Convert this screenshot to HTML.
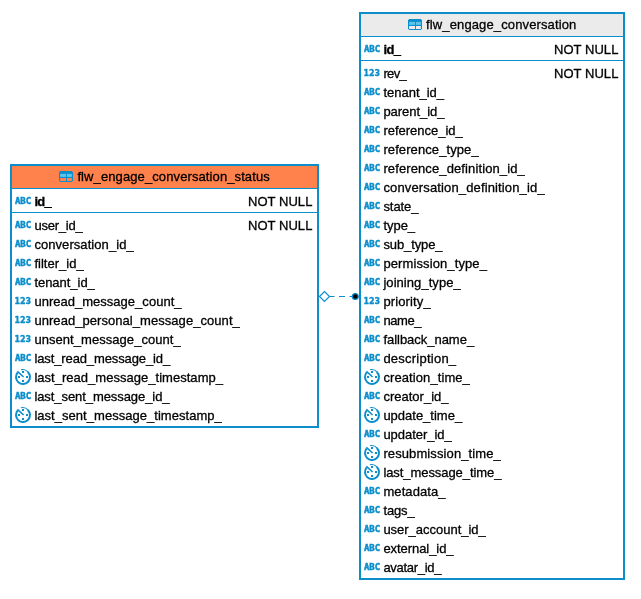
<!DOCTYPE html>
<html><head><meta charset="utf-8"><title>ER diagram</title>
<style>
html,body{margin:0;padding:0;background:#fff;}
body{width:641px;height:599px;position:relative;overflow:hidden;font-family:"Liberation Sans",sans-serif;font-size:13px;color:#000;}
.box{position:absolute;box-sizing:border-box;border:2px solid #0c8ecb;background:#fff;}
.hd{height:22px;border-bottom:1px solid #0c8ecb;line-height:22px;white-space:nowrap;position:relative;}
.l .hd{background:#ff814c;}
.r .hd{background:#ebebeb;}
.hdin{will-change:transform;position:absolute;top:0;height:22px;white-space:nowrap;}
.ti{position:absolute;left:0;top:5px;}
.tt{position:absolute;left:18px;top:0;line-height:22px;}
.pk{height:19px;padding:2px 0;border-bottom:1px solid #0c8ecb;}
.cols{padding:2px 0;}
.row{will-change:transform;height:19px;line-height:19px;position:relative;white-space:nowrap;}
.ic{position:absolute;left:3px;}
.ic text{font-weight:bold;fill:#0c8ecb;}
.ia{font-family:"DejaVu Sans Mono","Liberation Mono",monospace;font-size:9px;stroke:#0c8ecb;stroke-width:0.45px;}
.i1{font-family:"DejaVu Sans Condensed","DejaVu Sans","Liberation Sans",sans-serif;font-size:9.5px;stroke:#0c8ecb;stroke-width:0.35px;}
.nm,.nn,.tt{-webkit-text-stroke:0.3px #000;}
.nm{position:absolute;left:22.4px;top:1px;}
.b{font-weight:bold;}
.nn{position:absolute;right:4.55px;top:1px;}
svg{display:block;overflow:visible;}
</style></head>
<body>
<div class="box l" style="left:10px;top:164px;width:309px;height:264px">
<div class="hd"><span class="hdin" style="left:47px"><svg class="ti" width="14" height="11" viewBox="0 0 14 11"><path fill-rule="evenodd" fill="#0c8ecb" d="M1 0H13V0.8H14V10.2H13V11H1V10.2H0V0.8H1Z M1.1 7H7V10H1.1Z M7.95 7H12.85V10H7.95Z"/><rect x="1.1" y="2.9" width="5.9" height="3" fill="#58c6ee"/><rect x="7.95" y="2.9" width="4.9" height="3" fill="#58c6ee"/></svg><span class="tt" style="left:18.4px;letter-spacing:0.104px">flw_engage_conversation_status</span></span></div>
<div class="pk"><div class="row"><svg class="ic" width="17" height="9" viewBox="0 0 17 9" style="top:5px"><text class="ia" x="0" y="8" textLength="16.1" lengthAdjust="spacing">ABC</text></svg><span class="nm b" style="letter-spacing:-0.715px">id_</span><span class="nn" style="letter-spacing:0.054px">NOT NULL</span></div></div>
<div class="cols">
<div class="row"><svg class="ic" width="17" height="9" viewBox="0 0 17 9" style="top:5px"><text class="ia" x="0" y="8" textLength="16.1" lengthAdjust="spacing">ABC</text></svg><span class="nm" style="letter-spacing:-0.223px">user_id_</span><span class="nn" style="letter-spacing:0.054px">NOT NULL</span></div>
<div class="row"><svg class="ic" width="17" height="9" viewBox="0 0 17 9" style="top:5px"><text class="ia" x="0" y="8" textLength="16.1" lengthAdjust="spacing">ABC</text></svg><span class="nm" style="letter-spacing:0.066px">conversation_id_</span></div>
<div class="row"><svg class="ic" width="17" height="9" viewBox="0 0 17 9" style="top:5px"><text class="ia" x="0" y="8" textLength="16.1" lengthAdjust="spacing">ABC</text></svg><span class="nm" style="letter-spacing:0.017px">filter_id_</span></div>
<div class="row"><svg class="ic" width="17" height="9" viewBox="0 0 17 9" style="top:5px"><text class="ia" x="0" y="8" textLength="16.1" lengthAdjust="spacing">ABC</text></svg><span class="nm" style="letter-spacing:-0.031px">tenant_id_</span></div>
<div class="row"><svg class="ic" width="17" height="9" viewBox="0 0 17 9" style="top:5px"><text class="i1" x="-0.6" y="8" textLength="16.6" lengthAdjust="spacingAndGlyphs">123</text></svg><span class="nm" style="letter-spacing:0.019px">unread_message_count_</span></div>
<div class="row"><svg class="ic" width="17" height="9" viewBox="0 0 17 9" style="top:5px"><text class="i1" x="-0.6" y="8" textLength="16.6" lengthAdjust="spacingAndGlyphs">123</text></svg><span class="nm" style="letter-spacing:0.054px">unread_personal_message_count_</span></div>
<div class="row"><svg class="ic" width="17" height="9" viewBox="0 0 17 9" style="top:5px"><text class="i1" x="-0.6" y="8" textLength="16.6" lengthAdjust="spacingAndGlyphs">123</text></svg><span class="nm" style="letter-spacing:0.054px">unsent_message_count_</span></div>
<div class="row"><svg class="ic" width="17" height="9" viewBox="0 0 17 9" style="top:5px"><text class="ia" x="0" y="8" textLength="16.1" lengthAdjust="spacing">ABC</text></svg><span class="nm" style="letter-spacing:-0.111px">last_read_message_id_</span></div>
<div class="row"><svg class="ic" width="16" height="16" viewBox="0 0 16 16" style="top:2px"><path d="M2.7 3.4 A7 7 0 1 0 12.8 2.9" fill="none" stroke="#0c8ecb" stroke-width="2"/><path d="M13.2 3.2 A7.5 7.5 0 0 0 6 0.75" fill="none" stroke="#0c8ecb" stroke-width="1.1"/><path d="M2.4 2.4 L8.6 8" fill="none" stroke="#0c8ecb" stroke-width="1.6"/><path fill="#0c8ecb" d="M7 2h2v2H7zM7 11h2v2H7zM3 7h2v2H3zM11 7h2v2h-2z"/></svg><span class="nm" style="letter-spacing:0.026px">last_read_message_timestamp_</span></div>
<div class="row"><svg class="ic" width="17" height="9" viewBox="0 0 17 9" style="top:5px"><text class="ia" x="0" y="8" textLength="16.1" lengthAdjust="spacing">ABC</text></svg><span class="nm" style="letter-spacing:-0.072px">last_sent_message_id_</span></div>
<div class="row"><svg class="ic" width="16" height="16" viewBox="0 0 16 16" style="top:2px"><path d="M2.7 3.4 A7 7 0 1 0 12.8 2.9" fill="none" stroke="#0c8ecb" stroke-width="2"/><path d="M13.2 3.2 A7.5 7.5 0 0 0 6 0.75" fill="none" stroke="#0c8ecb" stroke-width="1.1"/><path d="M2.4 2.4 L8.6 8" fill="none" stroke="#0c8ecb" stroke-width="1.6"/><path fill="#0c8ecb" d="M7 2h2v2H7zM7 11h2v2H7zM3 7h2v2H3zM11 7h2v2h-2z"/></svg><span class="nm" style="letter-spacing:0.037px">last_sent_message_timestamp_</span></div>
</div>
</div>
<div class="box r" style="left:359px;top:12px;width:266px;height:568px">
<div class="hd"><span class="hdin" style="left:47px"><svg class="ti" width="14" height="11" viewBox="0 0 14 11"><path fill-rule="evenodd" fill="#0c8ecb" d="M1 0H13V0.8H14V10.2H13V11H1V10.2H0V0.8H1Z M1.1 7H7V10H1.1Z M7.95 7H12.85V10H7.95Z"/><rect x="1.1" y="2.9" width="5.9" height="3" fill="#58c6ee"/><rect x="7.95" y="2.9" width="4.9" height="3" fill="#58c6ee"/></svg><span class="tt" style="left:18.1px;letter-spacing:0.124px">flw_engage_conversation</span></span></div>
<div class="pk"><div class="row"><svg class="ic" width="17" height="9" viewBox="0 0 17 9" style="top:5px"><text class="ia" x="0" y="8" textLength="16.1" lengthAdjust="spacing">ABC</text></svg><span class="nm b" style="letter-spacing:-0.548px">id_</span><span class="nn" style="letter-spacing:0.054px">NOT NULL</span></div></div>
<div class="cols">
<div class="row"><svg class="ic" width="17" height="9" viewBox="0 0 17 9" style="top:5px"><text class="i1" x="-0.6" y="8" textLength="16.6" lengthAdjust="spacingAndGlyphs">123</text></svg><span class="nm" style="letter-spacing:-0.662px">rev_</span><span class="nn" style="letter-spacing:0.054px">NOT NULL</span></div>
<div class="row"><svg class="ic" width="17" height="9" viewBox="0 0 17 9" style="top:5px"><text class="ia" x="0" y="8" textLength="16.1" lengthAdjust="spacing">ABC</text></svg><span class="nm" style="letter-spacing:-0.008px">tenant_id_</span></div>
<div class="row"><svg class="ic" width="17" height="9" viewBox="0 0 17 9" style="top:5px"><text class="ia" x="0" y="8" textLength="16.1" lengthAdjust="spacing">ABC</text></svg><span class="nm" style="letter-spacing:-0.032px">parent_id_</span></div>
<div class="row"><svg class="ic" width="17" height="9" viewBox="0 0 17 9" style="top:5px"><text class="ia" x="0" y="8" textLength="16.1" lengthAdjust="spacing">ABC</text></svg><span class="nm" style="letter-spacing:-0.005px">reference_id_</span></div>
<div class="row"><svg class="ic" width="17" height="9" viewBox="0 0 17 9" style="top:5px"><text class="ia" x="0" y="8" textLength="16.1" lengthAdjust="spacing">ABC</text></svg><span class="nm" style="letter-spacing:0.093px">reference_type_</span></div>
<div class="row"><svg class="ic" width="17" height="9" viewBox="0 0 17 9" style="top:5px"><text class="ia" x="0" y="8" textLength="16.1" lengthAdjust="spacing">ABC</text></svg><span class="nm" style="letter-spacing:0.113px">reference_definition_id_</span></div>
<div class="row"><svg class="ic" width="17" height="9" viewBox="0 0 17 9" style="top:5px"><text class="ia" x="0" y="8" textLength="16.1" lengthAdjust="spacing">ABC</text></svg><span class="nm" style="letter-spacing:0.141px">conversation_definition_id_</span></div>
<div class="row"><svg class="ic" width="17" height="9" viewBox="0 0 17 9" style="top:5px"><text class="ia" x="0" y="8" textLength="16.1" lengthAdjust="spacing">ABC</text></svg><span class="nm" style="letter-spacing:-0.056px">state_</span></div>
<div class="row"><svg class="ic" width="17" height="9" viewBox="0 0 17 9" style="top:5px"><text class="ia" x="0" y="8" textLength="16.1" lengthAdjust="spacing">ABC</text></svg><span class="nm" style="letter-spacing:-0.022px">type_</span></div>
<div class="row"><svg class="ic" width="17" height="9" viewBox="0 0 17 9" style="top:5px"><text class="ia" x="0" y="8" textLength="16.1" lengthAdjust="spacing">ABC</text></svg><span class="nm" style="letter-spacing:-0.109px">sub_type_</span></div>
<div class="row"><svg class="ic" width="17" height="9" viewBox="0 0 17 9" style="top:5px"><text class="ia" x="0" y="8" textLength="16.1" lengthAdjust="spacing">ABC</text></svg><span class="nm" style="letter-spacing:0.108px">permission_type_</span></div>
<div class="row"><svg class="ic" width="17" height="9" viewBox="0 0 17 9" style="top:5px"><text class="ia" x="0" y="8" textLength="16.1" lengthAdjust="spacing">ABC</text></svg><span class="nm" style="letter-spacing:0.06px">joining_type_</span></div>
<div class="row"><svg class="ic" width="17" height="9" viewBox="0 0 17 9" style="top:5px"><text class="i1" x="-0.6" y="8" textLength="16.6" lengthAdjust="spacingAndGlyphs">123</text></svg><span class="nm" style="letter-spacing:0.133px">priority_</span></div>
<div class="row"><svg class="ic" width="17" height="9" viewBox="0 0 17 9" style="top:5px"><text class="ia" x="0" y="8" textLength="16.1" lengthAdjust="spacing">ABC</text></svg><span class="nm" style="letter-spacing:-0.386px">name_</span></div>
<div class="row"><svg class="ic" width="17" height="9" viewBox="0 0 17 9" style="top:5px"><text class="ia" x="0" y="8" textLength="16.1" lengthAdjust="spacing">ABC</text></svg><span class="nm" style="letter-spacing:-0.026px">fallback_name_</span></div>
<div class="row"><svg class="ic" width="17" height="9" viewBox="0 0 17 9" style="top:5px"><text class="ia" x="0" y="8" textLength="16.1" lengthAdjust="spacing">ABC</text></svg><span class="nm" style="letter-spacing:0.236px">description_</span></div>
<div class="row"><svg class="ic" width="16" height="16" viewBox="0 0 16 16" style="top:2px"><path d="M2.7 3.4 A7 7 0 1 0 12.8 2.9" fill="none" stroke="#0c8ecb" stroke-width="2"/><path d="M13.2 3.2 A7.5 7.5 0 0 0 6 0.75" fill="none" stroke="#0c8ecb" stroke-width="1.1"/><path d="M2.4 2.4 L8.6 8" fill="none" stroke="#0c8ecb" stroke-width="1.6"/><path fill="#0c8ecb" d="M7 2h2v2H7zM7 11h2v2H7zM3 7h2v2H3zM11 7h2v2h-2z"/></svg><span class="nm" style="letter-spacing:0.092px">creation_time_</span></div>
<div class="row"><svg class="ic" width="17" height="9" viewBox="0 0 17 9" style="top:5px"><text class="ia" x="0" y="8" textLength="16.1" lengthAdjust="spacing">ABC</text></svg><span class="nm" style="letter-spacing:0.007px">creator_id_</span></div>
<div class="row"><svg class="ic" width="16" height="16" viewBox="0 0 16 16" style="top:2px"><path d="M2.7 3.4 A7 7 0 1 0 12.8 2.9" fill="none" stroke="#0c8ecb" stroke-width="2"/><path d="M13.2 3.2 A7.5 7.5 0 0 0 6 0.75" fill="none" stroke="#0c8ecb" stroke-width="1.1"/><path d="M2.4 2.4 L8.6 8" fill="none" stroke="#0c8ecb" stroke-width="1.6"/><path fill="#0c8ecb" d="M7 2h2v2H7zM7 11h2v2H7zM3 7h2v2H3zM11 7h2v2h-2z"/></svg><span class="nm" style="letter-spacing:-0.005px">update_time_</span></div>
<div class="row"><svg class="ic" width="17" height="9" viewBox="0 0 17 9" style="top:5px"><text class="ia" x="0" y="8" textLength="16.1" lengthAdjust="spacing">ABC</text></svg><span class="nm" style="letter-spacing:-0.032px">updater_id_</span></div>
<div class="row"><svg class="ic" width="16" height="16" viewBox="0 0 16 16" style="top:2px"><path d="M2.7 3.4 A7 7 0 1 0 12.8 2.9" fill="none" stroke="#0c8ecb" stroke-width="2"/><path d="M13.2 3.2 A7.5 7.5 0 0 0 6 0.75" fill="none" stroke="#0c8ecb" stroke-width="1.1"/><path d="M2.4 2.4 L8.6 8" fill="none" stroke="#0c8ecb" stroke-width="1.6"/><path fill="#0c8ecb" d="M7 2h2v2H7zM7 11h2v2H7zM3 7h2v2H3zM11 7h2v2h-2z"/></svg><span class="nm" style="letter-spacing:0.104px">resubmission_time_</span></div>
<div class="row"><svg class="ic" width="16" height="16" viewBox="0 0 16 16" style="top:2px"><path d="M2.7 3.4 A7 7 0 1 0 12.8 2.9" fill="none" stroke="#0c8ecb" stroke-width="2"/><path d="M13.2 3.2 A7.5 7.5 0 0 0 6 0.75" fill="none" stroke="#0c8ecb" stroke-width="1.1"/><path d="M2.4 2.4 L8.6 8" fill="none" stroke="#0c8ecb" stroke-width="1.6"/><path fill="#0c8ecb" d="M7 2h2v2H7zM7 11h2v2H7zM3 7h2v2H3zM11 7h2v2h-2z"/></svg><span class="nm" style="letter-spacing:-0.068px">last_message_time_</span></div>
<div class="row"><svg class="ic" width="17" height="9" viewBox="0 0 17 9" style="top:5px"><text class="ia" x="0" y="8" textLength="16.1" lengthAdjust="spacing">ABC</text></svg><span class="nm" style="letter-spacing:0.091px">metadata_</span></div>
<div class="row"><svg class="ic" width="17" height="9" viewBox="0 0 17 9" style="top:5px"><text class="ia" x="0" y="8" textLength="16.1" lengthAdjust="spacing">ABC</text></svg><span class="nm" style="letter-spacing:-0.114px">tags_</span></div>
<div class="row"><svg class="ic" width="17" height="9" viewBox="0 0 17 9" style="top:5px"><text class="ia" x="0" y="8" textLength="16.1" lengthAdjust="spacing">ABC</text></svg><span class="nm" style="letter-spacing:-0.017px">user_account_id_</span></div>
<div class="row"><svg class="ic" width="17" height="9" viewBox="0 0 17 9" style="top:5px"><text class="ia" x="0" y="8" textLength="16.1" lengthAdjust="spacing">ABC</text></svg><span class="nm" style="letter-spacing:-0.062px">external_id_</span></div>
<div class="row"><svg class="ic" width="17" height="9" viewBox="0 0 17 9" style="top:5px"><text class="ia" x="0" y="8" textLength="16.1" lengthAdjust="spacing">ABC</text></svg><span class="nm" style="letter-spacing:-0.287px">avatar_id_</span></div>
</div>
</div>
<svg style="position:absolute;left:315px;top:286px" width="50" height="22" viewBox="315 286 50 22"><path d="M319.5 296.5 L324.5 291.5 L329.5 296.5 L324.5 301.5 Z" fill="#fff" stroke="#0c8ecb" stroke-width="1.2"/><path d="M330 296.5 H353" stroke="#0c8ecb" stroke-width="1.2" stroke-dasharray="4.5 4.5 6 4.5 4 4" fill="none"/><circle cx="355.3" cy="296.5" r="2.95" fill="#000" stroke="#0c8ecb" stroke-width="1.3"/></svg>
</body></html>
